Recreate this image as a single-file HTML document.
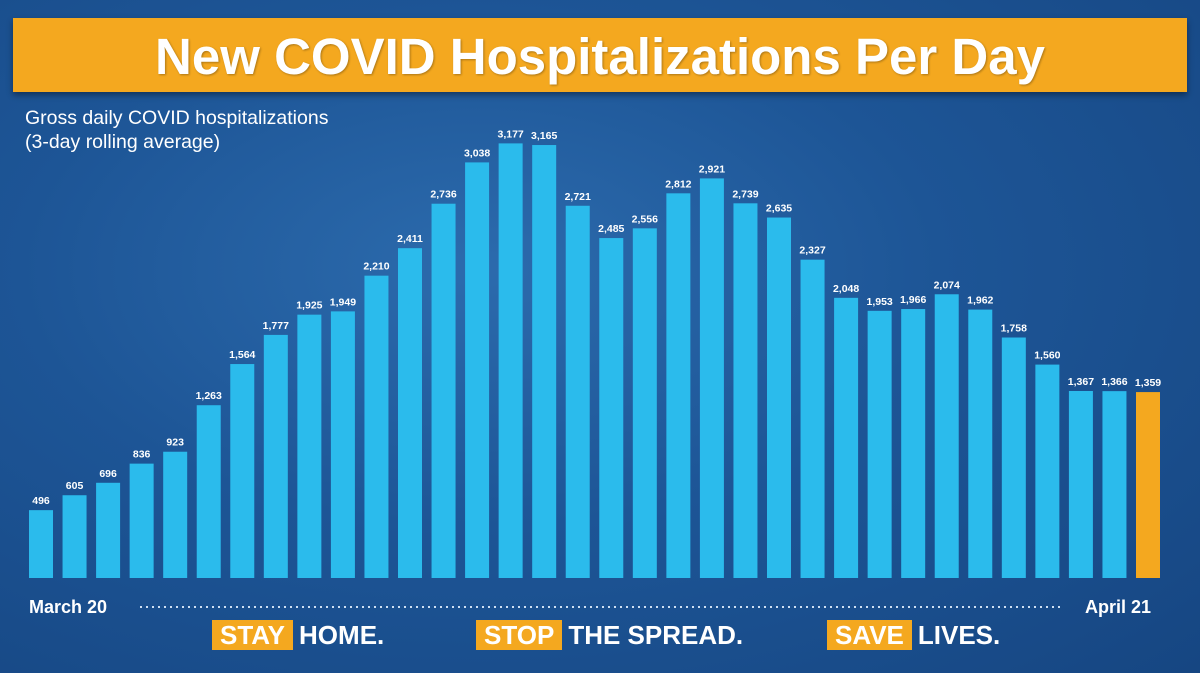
<!DOCTYPE html>
<html><head><meta charset="utf-8"><style>
body{margin:0;width:1200px;height:673px;overflow:hidden;font-family:"Liberation Sans",sans-serif}
#bg{position:absolute;left:0;top:0;width:1200px;height:673px;background:radial-gradient(ellipse at 40% 40%,#2c6bad 0%,#1d5596 45%,#164682 100%)}
#banner{position:absolute;left:13px;top:18px;width:1174px;height:74px;background:#f4a81f;box-shadow:0 3px 6px rgba(0,0,0,.4);color:#fff;font-weight:bold;font-size:51px;text-align:center;line-height:78px;text-shadow:1px 1px 2px rgba(0,0,0,.3)}
#sub{position:absolute;left:25px;top:106px;color:#fff;font-size:19.5px;line-height:24px}
.lbl{position:absolute;color:#fff;font-weight:bold;font-size:18px}
.foot{position:absolute;top:620px;font-weight:bold;font-size:26px;color:#fff}
.tag{background:#f4a81f;padding:0 8px;margin-right:6px}
</style></head><body>
<div id="bg"></div>
<div id="banner">New COVID Hospitalizations Per Day</div>
<div id="sub">Gross daily COVID hospitalizations<br>(3-day rolling average)</div>
<svg id="chart" width="1200" height="673" style="position:absolute;left:0;top:0">
<line x1="140" y1="607" x2="1062" y2="607" stroke="#cfe0f3" stroke-width="2" stroke-dasharray="2,4"/>
</svg>
<div class="lbl" style="left:29px;top:597px">March 20</div>
<div class="lbl" style="left:1085px;top:597px">April 21</div>
<div class="foot" style="left:212px"><span class="tag">STAY</span>HOME.</div>
<div class="foot" style="left:476px"><span class="tag">STOP</span>THE SPREAD.</div>
<div class="foot" style="left:827px"><span class="tag">SAVE</span>LIVES.</div>
<script>
const values=[496,605,696,836,923,1263,1564,1777,1925,1949,2210,2411,2736,3038,3177,3165,2721,2485,2556,2812,2921,2739,2635,2327,2048,1953,1966,2074,1962,1758,1560,1367,1366,1359];
const valueLabels=["496","605","696","836","923","1,263","1,564","1,777","1,925","1,949","2,210","2,411","2,736","3,038","3,177","3,165","2,721","2,485","2,556","2,812","2,921","2,739","2,635","2,327","2,048","1,953","1,966","2,074","1,962","1,758","1,560","1,367","1,366","1,359"];
const svg=document.getElementById('chart');
const NS='http://www.w3.org/2000/svg';
const base=578, scaleY=0.1368, x0=29, pitch=(1136-29)/33, bw=24;
function xPos(i){return x0+i*pitch;}
function yPos(v){return base-v*scaleY;}
values.forEach((v,i)=>{
  const r=document.createElementNS(NS,'rect');
  r.setAttribute('x',xPos(i));r.setAttribute('y',yPos(v));
  r.setAttribute('width',bw);r.setAttribute('height',base-yPos(v));
  r.setAttribute('fill',i===values.length-1?'#f4a81f':'#2bbbec');
  
  
  svg.appendChild(r);
  const t=document.createElementNS(NS,'text');
  t.setAttribute('x',xPos(i)+bw/2);t.setAttribute('y',yPos(v)-6);
  t.setAttribute('text-anchor','middle');t.setAttribute('fill','#fff');
  t.setAttribute('font-size','10.5');t.setAttribute('font-weight','bold');
  t.setAttribute('font-family','Liberation Sans, sans-serif');
  t.textContent=valueLabels[i];
  
  
  svg.appendChild(t);
});
</script>
</body></html>
